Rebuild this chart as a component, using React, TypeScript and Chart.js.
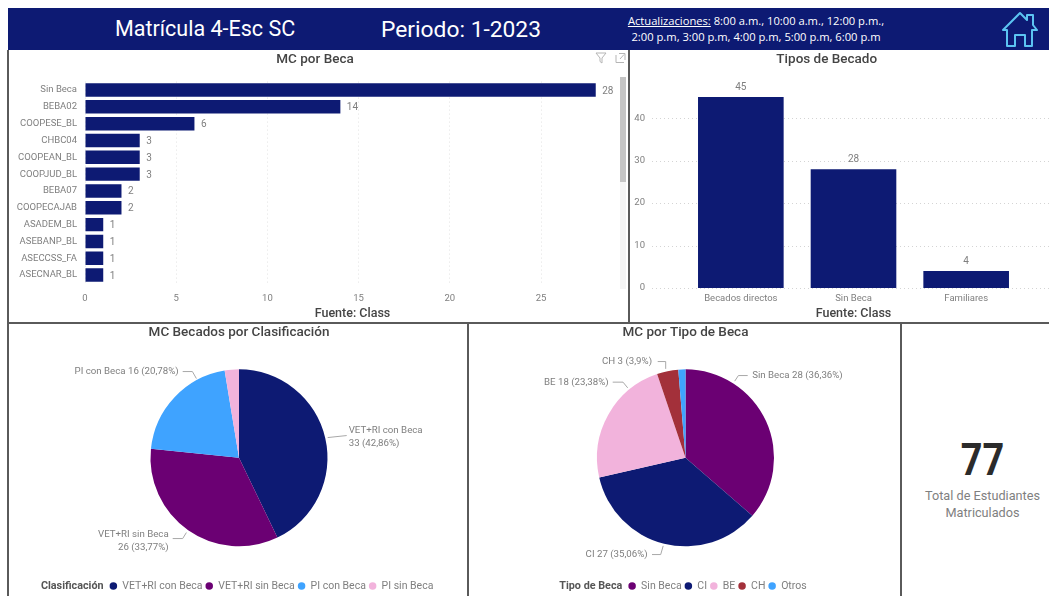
import React, { useEffect, useRef } from "react";
import { Chart, registerables } from "chart.js";

Chart.register(...registerables);

const becaLabels = ["Sin Beca", "BEBA02", "COOPESE_BL", "CHBC04", "COOPEAN_BL", "COOPJUD_BL", "BEBA07", "COOPECAJAB", "ASADEM_BL", "ASEBANP_BL", "ASECCSS_FA", "ASECNAR_BL"];
const becaValues = [28, 14, 6, 3, 3, 3, 2, 2, 1, 1, 1, 1];
const tipoBecadoLabels = ["Becados directos", "Sin Beca", "Familiares"];
const tipoBecadoValues = [45, 28, 4];
const clasifLabels = ["VET+RI con Beca", "VET+RI sin Beca", "PI con Beca", "PI sin Beca"];
const clasifValues = [33, 26, 16, 2];
const tipoBecaLabels = ["Sin Beca", "CI", "BE", "CH", "Otros"];
const tipoBecaValues = [28, 27, 18, 3, 1];

const NAVY = "#0d1a73";
const PURPLE = "#6b0073";
const BLUE = "#3fa3ff";
const PINK = "#f2b3dc";
const RED = "#a3303a";
const GREY = "#7f7f7f";
const TITLE = "#444444";
const FONT = "Roboto, sans-serif";

const pct = (v: number, total: number) => String(Number(((v / total) * 100).toFixed(2))).replace(".", ",");

type Callout = { leader: number[][]; tx: number; align: CanvasTextAlign; ys: number[]; split?: boolean } | null;

const clasifCallouts: Callout[] = [
  { leader: [[88.7, -20.3], [107.7, -22.3]], tx: 109.7, align: "left", ys: [-27.6, -14.3], split: true },
  { leader: [[-52.6, 74.7], [-56.3, 80.7], [-66.3, 80.7]], tx: -70.3, align: "right", ys: [76.7, 89.4], split: true },
  { leader: [[-42.6, -79.3], [-46.6, -86.3], [-56.3, -86.3]], tx: -60.3, align: "right", ys: [-86.3] },
  null,
];
const tipoBecaCallouts: Callout[] = [
  { leader: [[49.2, -76.7], [52.9, -82.3], [62.2, -82.3]], tx: 66.7, align: "left", ys: [-82.3] },
  { leader: [[-22.3, 88], [-24.8, 96.7], [-33.5, 96.7]], tx: -37.8, align: "right", ys: [96.7] },
  { leader: [[-57.8, -70], [-62.5, -75.7], [-72.8, -75.7]], tx: -76.8, align: "right", ys: [-75.7] },
  { leader: [[-19.8, -89], [-19.8, -96.3], [-27.8, -96.3]], tx: -33.5, align: "right", ys: [-96.3] },
  null,
];

const barValueLabels = {
  id: "barValueLabels",
  afterDatasetsDraw(chart: any) {
    const { ctx } = chart;
    const horizontal = chart.options.indexAxis === "y";
    const values = chart.data.datasets[0].data;
    ctx.save();
    ctx.font = `10px ${FONT}`;
    ctx.fillStyle = GREY;
    ctx.textBaseline = "middle";
    ctx.textAlign = horizontal ? "left" : "center";
    chart.getDatasetMeta(0).data.forEach((el: any, i: number) => {
      if (horizontal) ctx.fillText(String(values[i]), el.x + 6.5, el.y + 1);
      else ctx.fillText(String(values[i]), el.x, el.y - 9.5);
    });
    ctx.restore();
  },
};

const wideGrid = (x0: number, x1: number) => ({
  id: "wideGrid",
  beforeDatasetsDraw(chart: any) {
    const { ctx } = chart;
    const y = chart.scales.y;
    ctx.save();
    ctx.strokeStyle = "#d4d4d4";
    ctx.setLineDash([1, 3]);
    ctx.lineWidth = 1;
    y.ticks.forEach((t: any) => {
      const py = Math.round(y.getPixelForValue(t.value)) + 0.5;
      ctx.beginPath();
      ctx.moveTo(x0, py);
      ctx.lineTo(x1, py);
      ctx.stroke();
    });
    ctx.restore();
  },
});

const pieCallouts = (callouts: Callout[]) => ({
  id: "pieCallouts",
  afterDatasetsDraw(chart: any) {
    const { ctx } = chart;
    const arc = chart.getDatasetMeta(0).data[0];
    const values: number[] = chart.data.datasets[0].data;
    const total = values.reduce((a, b) => a + b, 0);
    ctx.save();
    ctx.font = `9.7px ${FONT}`;
    ctx.textBaseline = "middle";
    callouts.forEach((c, i) => {
      if (!c) return;
      ctx.strokeStyle = "#a8a8a8";
      ctx.lineWidth = 1;
      ctx.beginPath();
      c.leader.forEach(([dx, dy], k) => (k ? ctx.lineTo(arc.x + dx, arc.y + dy) : ctx.moveTo(arc.x + dx, arc.y + dy)));
      ctx.stroke();
      const name = chart.data.labels[i];
      const tail = `${values[i]} (${pct(values[i], total)}%)`;
      const lines = c.split ? [name, tail] : [`${name} ${tail}`];
      ctx.fillStyle = GREY;
      ctx.textAlign = c.align;
      lines.forEach((t: string, k: number) => ctx.fillText(t, arc.x + c.tx, arc.y + c.ys[k]));
    });
    ctx.restore();
  },
});

const LEGEND_PAD = 3;
const LEGEND_FONT = 10.5;

const legendHeading = (heading: string, dx: number, centerY: number) => ({
  id: "legendHeading",
  afterLayout(chart: any) {
    const l = chart.legend;
    l.left += dx;
    l.right += dx;
    l.top = centerY - LEGEND_PAD - LEGEND_FONT / 2;
  },
  afterDraw(chart: any) {
    const { ctx, legend } = chart;
    const start = (legend.left + LEGEND_PAD + legend.right - legend.lineWidths[0]) / 2;
    ctx.save();
    ctx.font = `bold 10.8px ${FONT}`;
    ctx.fillStyle = "#555555";
    ctx.textAlign = "right";
    ctx.textBaseline = "middle";
    ctx.fillText(heading, start - 6, centerY);
    ctx.restore();
  },
});

const titleOpt = (text: string, bottom: number) => ({
  display: true,
  text,
  color: TITLE,
  font: { family: FONT, size: 13.5, weight: 500 },
  padding: { top: 1, bottom },
});

const sourceTitle = {
  display: true,
  text: "Fuente: Class",
  color: TITLE,
  font: { family: FONT, size: 12.5, weight: 500 },
  padding: 0,
};

const tickFont = { family: FONT, size: 9.5 };

const becaConfig: any = {
  type: "bar",
  data: {
    labels: becaLabels,
    datasets: [{ data: becaValues, backgroundColor: NAVY, barPercentage: 0.8, categoryPercentage: 1 }],
  },
  options: {
    indexAxis: "y",
    animation: false,
    responsive: false,
    layout: { autoPadding: false, padding: { right: 8 } },
    plugins: { legend: { display: false }, tooltip: { enabled: false }, title: titleOpt("MC por Beca", 13.4) },
    scales: {
      x: {
        min: 0,
        max: 29.33,
        ticks: { stepSize: 5, includeBounds: false, maxRotation: 0, color: GREY, font: tickFont, padding: 9 },
        grid: { color: "#e2e2e2", drawTicks: false },
        border: { display: false, dash: [1, 3] },
        title: sourceTitle,
        afterFit: (s: any) => { s.height = 37.5; },
      },
      y: {
        ticks: { color: GREY, font: tickFont, padding: 8, autoSkip: false },
        grid: { display: false, drawTicks: false },
        border: { display: false },
        afterFit: (s: any) => { s.width = 75; },
      },
    },
  },
  plugins: [barValueLabels],
};

const tipoBecadoConfig: any = {
  type: "bar",
  data: {
    labels: tipoBecadoLabels,
    datasets: [{ data: tipoBecadoValues, backgroundColor: NAVY, barPercentage: 0.76, categoryPercentage: 1 }],
  },
  options: {
    animation: false,
    responsive: false,
    layout: { autoPadding: false, padding: { right: 38.5 } },
    plugins: { legend: { display: false }, tooltip: { enabled: false }, title: titleOpt("Tipos de Becado", 11.8) },
    scales: {
      x: {
        ticks: { color: GREY, font: tickFont, padding: 5, maxRotation: 0 },
        grid: { display: false, drawTicks: false },
        border: { display: false },
        title: sourceTitle,
        afterFit: (s: any) => { s.height = 33; },
      },
      y: {
        min: 0,
        max: 49,
        ticks: { stepSize: 10, includeBounds: false, color: GREY, font: tickFont, padding: 39.5 },
        grid: { display: false, drawTicks: false },
        border: { display: false },
        afterFit: (s: any) => { s.width = 53.5; s.paddingTop = 0; s.paddingBottom = 0; },
      },
    },
  },
  plugins: [barValueLabels, wideGrid(21, 418)],
};

const pieConfig = (title: string, labels: string[], values: number[], colors: string[], callouts: Callout[], heading: string, dx: number): any => ({
  type: "pie",
  data: { labels, datasets: [{ data: values, backgroundColor: colors, borderWidth: 0, radius: 88.5 }] },
  options: {
    animation: false,
    responsive: false,
    layout: { autoPadding: false },
    plugins: {
      tooltip: { enabled: false },
      title: { ...titleOpt(title, 1.2), padding: { top: 1, bottom: 2 } },
      legend: {
        position: "bottom",
        align: "center",
        labels: {
          usePointStyle: true,
          pointStyle: "circle",
          boxWidth: 7.5,
          boxHeight: 5.3,
          pointStyleWidth: 7.5,
          padding: LEGEND_PAD,
          color: GREY,
          font: { family: FONT, size: LEGEND_FONT },
        },
      },
    },
  },
  plugins: [pieCallouts(callouts), legendHeading(heading, dx, 262)],
});

function ChartBox({ config, left, top, width, height }: any) {
  const ref = useRef<HTMLCanvasElement>(null);
  useEffect(() => {
    const chart = new Chart(ref.current as HTMLCanvasElement, config);
    return () => chart.destroy();
  }, []);
  return <canvas ref={ref} width={width} height={height} style={{ position: "absolute", left, top, width, height, display: "block" }} />;
}

const Rule = ({ left, top, width, height }: any) => (
  <div style={{ position: "absolute", left, top, width, height, background: "#5a5a5a" }} />
);

const HomeIcon = () => (
  <svg width="38" height="38" viewBox="0 0 38 38" style={{ position: "absolute", left: 1001, top: 11 }} fill="none" stroke="#5cc4f2" strokeWidth="2" strokeLinejoin="round" strokeLinecap="round">
    <path d="M2 19 L19 2 L26 9 L26 4 L32 4 L32 14 L36 19 L31 19 L31 35 L24 35 L24 24 L14 24 L14 35 L6 35 L6 19 Z" />
  </svg>
);

const FilterIcons = () => (
  <svg width="34" height="12" viewBox="0 0 34 12" style={{ position: "absolute", left: 595, top: 52 }} fill="none" stroke="#b5b5b5" strokeWidth="1">
    <path d="M1 1 H11 L7 6 V11 L5 9.5 V6 Z" />
    <path d="M21 3 V10.5 H29 M24 1.5 H30 V8 M25 7 L29 2.5" />
  </svg>
);

export default function App() {
  return (
    <div style={{ position: "fixed", left: 0, top: 0, width: 1049, height: 596, overflow: "hidden", background: "#fff", filter: "blur(0.5px)" }}>
      <div style={{ position: "absolute", left: 8, top: 8, width: 1041, height: 42, background: NAVY }} />
      <div style={{ position: "absolute", left: 115, top: 8, color: "#fff", font: `21.5px/42px ${FONT}`, whiteSpace: "nowrap" }}>Matrícula 4-Esc SC</div>
      <div style={{ position: "absolute", left: 381, top: 9, color: "#fff", font: `22.8px/42px ${FONT}`, whiteSpace: "nowrap" }}>Periodo: 1-2023</div>
      <div style={{ position: "absolute", left: 606, top: 13, width: 300, textAlign: "center", color: "#fff", font: "11.2px/16px 'Open Sans', sans-serif", whiteSpace: "nowrap" }}>
        <span style={{ textDecoration: "underline" }}>Actualizaciones:</span> 8:00 a.m., 10:00 a.m., 12:00 p.m.,<br />2:00 p.m, 3:00 p.m, 4:00 p.m, 5:00 p.m, 6:00 p.m
      </div>
      <HomeIcon />

      <Rule left={7} top={50} width={2} height={546} />
      <Rule left={628} top={50} width={2} height={272} />
      <Rule left={8} top={322} width={1041} height={2} />
      <Rule left={467} top={322} width={2} height={274} />
      <Rule left={900} top={322} width={2} height={274} />

      <div style={{ position: "absolute", left: 620, top: 77, width: 6, height: 212, background: "#f4f4f4" }} />
      <div style={{ position: "absolute", left: 620, top: 77, width: 6, height: 105, background: "#c4c4c4" }} />
      <FilterIcons />

      <ChartBox config={becaConfig} left={10} top={51} width={618} height={270} />
      <ChartBox config={tipoBecadoConfig} left={631} top={51} width={430} height={270} />
      <ChartBox config={pieConfig("MC Becados por Clasificación", clasifLabels, clasifValues, [NAVY, PURPLE, BLUE, PINK], clasifCallouts, "Clasificación", 32.5)} left={10} top={324} width={458} height={272} />
      <ChartBox config={pieConfig("MC por Tipo de Beca", tipoBecaLabels, tipoBecaValues, [PURPLE, NAVY, PINK, RED, BLUE], tipoBecaCallouts, "Tipo de Beca", 32)} left={470} top={324} width={431} height={272} />

      <div style={{ position: "absolute", left: 902, top: 430, width: 161, textAlign: "center", color: "#2b2b2b", font: `bold 45px/60px ${FONT}`, transform: "scaleX(0.84)" }}>77</div>
      <div style={{ position: "absolute", left: 902, top: 487, width: 161, textAlign: "center", color: GREY, font: `12.7px/17px ${FONT}` }}>Total de Estudiantes<br />Matriculados</div>
    </div>
  );
}
